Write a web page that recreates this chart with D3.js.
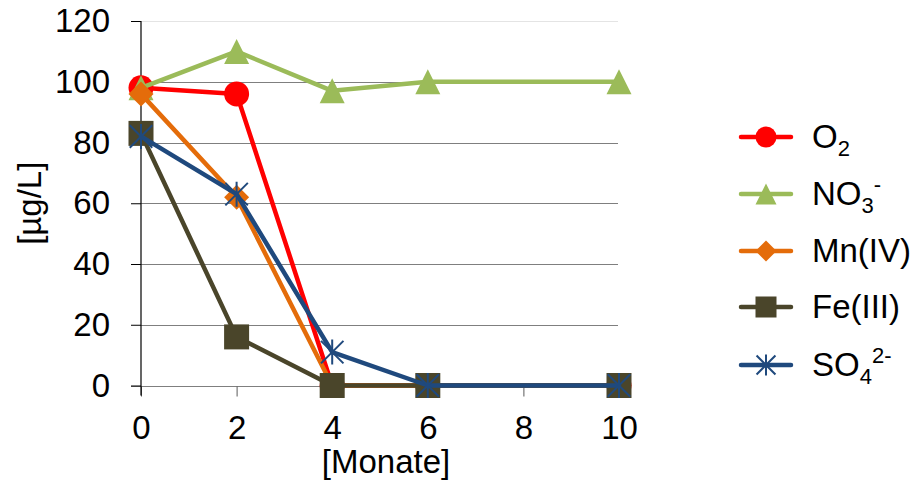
<!DOCTYPE html>
<html>
<head>
<meta charset="utf-8">
<script src="https://cdn.jsdelivr.net/npm/d3@7/dist/d3.min.js"></script>
<style>
  html, body { margin: 0; padding: 0; background: #fff; }
  svg { display: block; font-family: "Liberation Sans", Arial, sans-serif; }
</style>
</head>
<body>
<svg id="chart" width="924" height="483"></svg>
<script>
// Months of observation
const months = [0, 2, 4, 6, 10];
const xTicks = [0, 2, 4, 6, 8, 10];
const yTicks = [0, 20, 40, 60, 80, 100, 120];

// Concentrations [µg/L] for each electron acceptor
const o2    = [98, 96, 0, 0, 0];
const no3   = [98, 110, 97, 100, 100];
const mn4   = [96, 62, 0, 0, 0];
const fe3   = [83, 16, 0, 0, 0];
const so4   = [82, 63, 11, 0, 0];

const seriesNames = ["O2", "NO3-", "Mn(IV)", "Fe(III)", "SO42-"];
const seriesColors = ["#FF0000", "#9BBB59", "#E46C0A", "#4A452A", "#1F497D"];
const seriesMarkers = ["circle", "triangle", "diamond", "square", "star"];
const seriesValues = [o2, no3, mn4, fe3, so4];

const svg = d3.select("#chart");
const fontSize = 33;

const x = d3.scaleLinear().domain([0, 10]).range([141, 619]);
const y = d3.scaleLinear().domain([0, 120]).range([385.5, 21]);

// Horizontal gridlines
svg.append("g").selectAll("line")
  .data(yTicks.filter(d => d > 0))
  .join("line")
  .attr("x1", x(0)).attr("x2", 618)
  .attr("y1", d => Math.round(y(d)) + 0.5).attr("y2", d => Math.round(y(d)) + 0.5)
  .attr("stroke", d => d === 120 ? "#e4e4e4" : "#7f7f7f")
  .attr("stroke-width", 1.2);

// X axis (bottom) with tick marks
const xAxis = d3.axisBottom(x).tickValues(xTicks).tickSize(10).tickPadding(19).tickSizeOuter(0);
const gx = svg.append("g").attr("transform", `translate(0,${Math.round(y(0)) + 0.5})`).call(xAxis);
gx.select(".domain").attr("stroke", "#7f7f7f").attr("stroke-width", 1.2)
  .attr("d", `M131,0H618`);
gx.selectAll(".tick line").attr("stroke", "#595959");
gx.selectAll(".tick text")
  .attr("font-size", fontSize).attr("fill", "#000")
  .attr("font-family", "Liberation Sans, Arial, sans-serif");

// Y axis (left) with tick marks
const yAxis = d3.axisLeft(y).tickValues(yTicks).tickSize(10).tickPadding(21).tickSizeOuter(0);
const gy = svg.append("g").attr("transform", `translate(${x(0)},0)`).call(yAxis);
gy.select(".domain").attr("stroke", "#000").attr("stroke-width", 1.2)
  .attr("d", `M0,${y(120)}V${y(0) + 10}`);
gy.selectAll(".tick line").attr("stroke", "#000");
gy.selectAll(".tick text")
  .attr("font-size", fontSize).attr("fill", "#000")
  .attr("font-family", "Liberation Sans, Arial, sans-serif");

// Axis titles
svg.append("text")
  .attr("x", 386).attr("y", 473)
  .attr("text-anchor", "middle")
  .attr("font-size", fontSize)
  .text("[Monate]");

svg.append("text")
  .attr("transform", `translate(41,${(y(0) + y(120)) / 2}) rotate(-90)`)
  .attr("text-anchor", "middle")
  .attr("font-size", fontSize)
  .text("[µg/L]");

// Marker drawing
function drawMarker(g, type, color, size) {
  const h = size / 2;
  if (type === "circle") {
    g.append("circle").attr("r", h).attr("fill", color);
  } else if (type === "triangle") {
    g.append("path").attr("d", `M0,${-h}L${h},${h}L${-h},${h}Z`).attr("fill", color);
  } else if (type === "diamond") {
    g.append("path").attr("d", `M0,${-h}L${h},0L0,${h}L${-h},0Z`).attr("fill", color);
  } else if (type === "square") {
    g.append("rect").attr("x", -h).attr("y", -h).attr("width", size).attr("height", size).attr("fill", color);
  } else if (type === "star") {
    const d = h * 0.9;
    g.append("path")
      .attr("d", `M${-d},${-d}L${d},${d}M${-d},${d}L${d},${-d}M0,${-h}L0,${h}`)
      .attr("stroke", color).attr("stroke-width", 2).attr("fill", "none");
  }
}

const line = d3.line().x(d => x(d[0])).y(d => y(d[1]));

// Series: each line followed by its markers
seriesValues.forEach((vals, i) => {
  const pts = months.map((m, j) => [m, vals[j]]);
  const g = svg.append("g");
  g.append("path")
    .datum(pts)
    .attr("d", line)
    .attr("fill", "none")
    .attr("stroke", seriesColors[i])
    .attr("stroke-width", 4.5)
    .attr("stroke-linejoin", "round")
    .attr("stroke-linecap", "round");
  pts.forEach(p => {
    const mg = g.append("g").attr("transform", `translate(${x(p[0])},${y(p[1])})`);
    drawMarker(mg, seriesMarkers[i], seriesColors[i], 25);
  });
});

// Legend
const legendY = [137, 194, 251, 307, 365];
const legend = svg.append("g");
seriesNames.forEach((name, i) => {
  const g = legend.append("g").attr("transform", `translate(0,${legendY[i]})`);
  g.append("line")
    .attr("x1", 741).attr("x2", 791)
    .attr("stroke", seriesColors[i]).attr("stroke-width", 4.5)
    .attr("stroke-linecap", "round");
  const mg = g.append("g").attr("transform", "translate(766,0)");
  drawMarker(mg, seriesMarkers[i], seriesColors[i], 21);

  const t = g.append("text").attr("x", 812).attr("y", 11).attr("font-size", fontSize);
  const small = 22;
  if (name === "O2") {
    t.append("tspan").text("O");
    t.append("tspan").attr("font-size", small).attr("dy", 8).text("2");
  } else if (name === "NO3-") {
    t.append("tspan").text("NO");
    t.append("tspan").attr("font-size", small).attr("dy", 8).text("3");
    t.append("tspan").attr("font-size", small).attr("dy", -21).text("-");
  } else if (name === "SO42-") {
    t.append("tspan").text("SO");
    t.append("tspan").attr("font-size", small).attr("dy", 8).text("4");
    t.append("tspan").attr("font-size", small).attr("dy", -21).text("2-");
  } else {
    t.text(name);
  }
});
</script>
</body>
</html>
